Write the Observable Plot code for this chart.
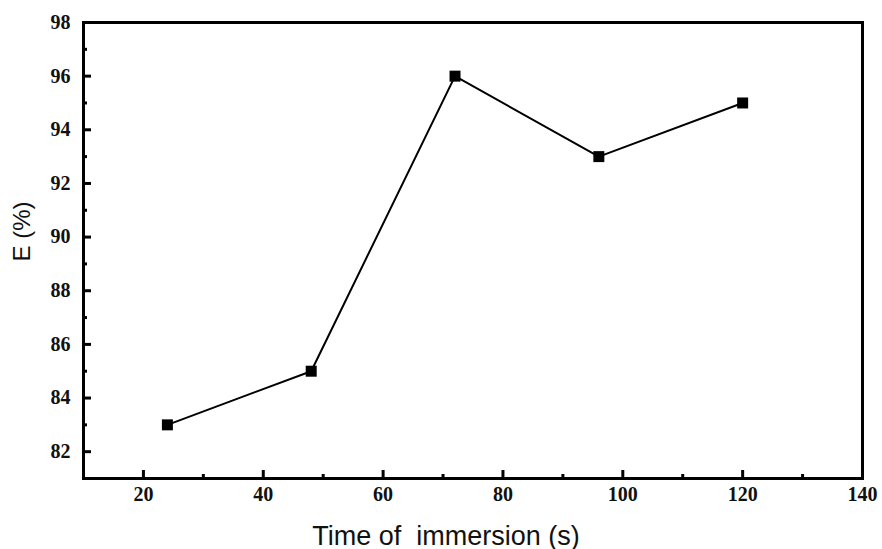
<!DOCTYPE html>
<html>
<head>
<meta charset="utf-8">
<script src="https://cdn.jsdelivr.net/npm/d3@7"></script>
<script src="https://cdn.jsdelivr.net/npm/@observablehq/plot@0.6"></script>
<style>
  html, body { margin: 0; padding: 0; background: #fff; }
  #chart svg { display: block; }
</style>
</head>
<body>
<div id="chart"></div>
<script>
// Immersion time (s) and efficiency E (%)
const times = [24, 48, 72, 96, 120];
const efficiency = [83, 85, 96, 93, 95];

// Axis tick values
const xMajorTicks = [20, 40, 60, 80, 100, 120, 140];
const xMinorTicks = [30, 50, 70, 90, 110, 130];
const yMajorTicks = [82, 84, 86, 88, 90, 92, 94, 96, 98];
const yMinorTicks = [83, 85, 87, 89, 91, 93, 95, 97];

const xTitle = "Time of  immersion (s)";
const yTitle = "E (%)";

const data = times.map((t, i) => ({time: t, e: efficiency[i]}));

const tickFont = "'Liberation Serif', 'DejaVu Serif', serif";
const titleFont = "'Liberation Sans', Arial, sans-serif";

const chart = Plot.plot({
  width: 882,
  height: 549,
  marginLeft: 83,
  marginRight: 20,
  marginTop: 22,
  marginBottom: 71,
  style: {background: "#fff"},
  x: {domain: [10, 140]},
  y: {domain: [81, 98]},
  marks: [
    // inward major and minor ticks
    Plot.axisX(xMajorTicks, {tickSize: -8, strokeWidth: 3, text: null, label: null}),
    Plot.axisX(xMinorTicks, {tickSize: -4, strokeWidth: 3, text: null, label: null}),
    Plot.axisY(yMajorTicks, {tickSize: -8, strokeWidth: 3, text: null, label: null}),
    Plot.axisY(yMinorTicks, {tickSize: -4, strokeWidth: 3, text: null, label: null}),
    // tick labels
    Plot.text(xMajorTicks, {x: d => d, frameAnchor: "bottom", dy: 22, text: d => String(d), fontSize: 20, fontWeight: "bold", fontFamily: tickFont, fill: "#111", ariaLabel: "x-tick-labels"}),
    Plot.text(yMajorTicks, {y: d => d, frameAnchor: "left", dx: -13, textAnchor: "end", text: d => String(d), fontSize: 20, fontWeight: "bold", fontFamily: tickFont, fill: "#111", ariaLabel: "y-tick-labels"}),
    Plot.frame({stroke: "#000", strokeWidth: 3}),
    Plot.line(data, {x: "time", y: "e", stroke: "#000", strokeWidth: 2}),
    Plot.dot(data, {x: "time", y: "e", symbol: "square", r: 6.2, fill: "#000", stroke: "none"}),
    // axis titles
    Plot.text([xTitle], {frameAnchor: "bottom", dx: -27, dy: 66, text: d => d, fontSize: 27, fontFamily: titleFont, fill: "#111"}),
    Plot.text([yTitle], {frameAnchor: "left", dx: -61, dy: 11, rotate: -90, text: d => d, fontSize: 24, fontFamily: titleFont, fill: "#111"})
  ]
});

// tick labels use a serif face
d3.select(chart).selectAll('g[aria-label="x-tick-labels"] text, g[aria-label="y-tick-labels"] text')
  .style("font-family", tickFont);

document.getElementById("chart").appendChild(chart);
</script>
</body>
</html>
